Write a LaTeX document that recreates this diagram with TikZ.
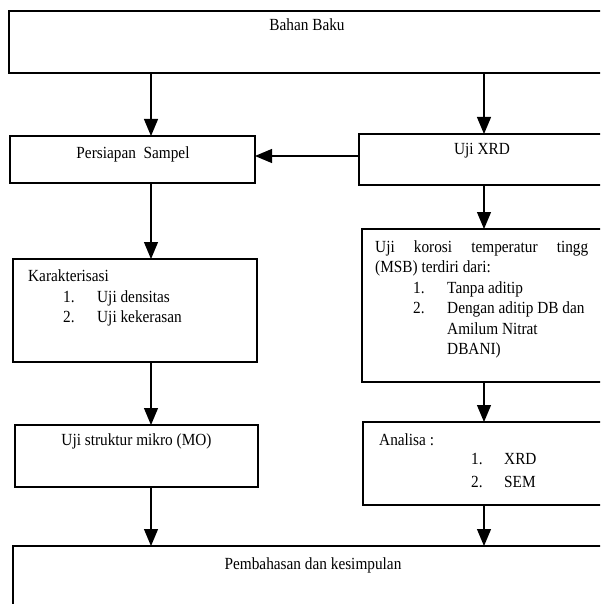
\documentclass[tikz,border=0pt]{standalone}
\usepackage{fontspec}
\setmainfont{Liberation Serif}[FakeStretch=0.9]
\usetikzlibrary{arrows.meta}
\begin{document}
\begin{tikzpicture}[x=1pt,y=-1pt,
  box/.style={draw, line width=1.4pt, rectangle, inner sep=0pt, outer sep=0pt, anchor=north west},
  arr/.style={line width=1.2pt, -{Triangle[length=17pt,width=14pt]}},
  txt/.style={inner sep=0pt, anchor=base west, font=\fontsize{17}{20}\selectfont},
  ctxt/.style={txt, anchor=base}]
\useasboundingbox (0,0) rectangle (600,604);
\clip (0,0) rectangle (600,604);
% boxes
\node[box, minimum width=602pt, minimum height=62pt] (bahan) at (9,11) {};
\node[box, minimum width=245pt, minimum height=47pt] (persiapan) at (10,136) {};
\node[box, minimum width=250pt, minimum height=51pt] (xrd) at (359,134) {};
\node[box, minimum width=244pt, minimum height=103pt] (karak) at (13,259) {};
\node[box, minimum width=250pt, minimum height=153pt] (korosi) at (362,229) {};
\node[box, minimum width=243pt, minimum height=62pt] (struktur) at (15,425) {};
\node[box, minimum width=250pt, minimum height=83pt] (analisa) at (363,422) {};
\node[box, minimum width=600pt, minimum height=80pt] (bahas) at (13,546) {};
% texts
\node[ctxt] (tbahan) at (307,31) {Bahan Baku};
\node[ctxt] (tpersiapan) at (133,158) {Persiapan\ \ Sampel};
\node[ctxt] (txrd) at (482,155) {Uji XRD};
\node[txt] (tk0) at (28,281) {Karakterisasi};
\node[txt] (tk1n) at (63,302) {1.};
\node[txt] (tk1) at (97,302) {Uji densitas};
\node[txt] (tk2n) at (63,322) {2.};
\node[txt] (tk2) at (97,322) {Uji kekerasan};
\node[txt] (tr0) at (375,252) {\hbox to 213pt{Uji\hfill korosi\hfill temperatur\hfill tingg}};
\node[txt] (tr1) at (375,272.5) {(MSB) terdiri dari:};
\node[txt] (tr2n) at (413,293) {1.};
\node[txt] (tr2) at (447,293) {Tanpa aditip};
\node[txt] (tr3n) at (413,313.5) {2.};
\node[txt] (tr3) at (447,313.5) {Dengan aditip DB dan};
\node[txt] (tr4) at (447,334) {Amilum Nitrat};
\node[txt] (tr5) at (447,354.5) {DBANI)};
\node[ctxt] (tstruktur) at (136.5,445) {Uji struktur mikro (MO)};
\node[txt] (ta0) at (379,445) {Analisa :};
\node[txt] (ta1n) at (471,464) {1.};
\node[txt] (ta1) at (504,464) {XRD};
\node[txt] (ta2n) at (471,487) {2.};
\node[txt] (ta2) at (504,487) {SEM};
\node[ctxt] (tbahas) at (313,569) {Pembahasan dan kesimpulan};
% connectors
\coordinate (cl) at (151,0);
\coordinate (cr) at (484,0);
\coordinate (rh) at (0,156);
\draw[arr] (bahan.south -| cl) -- (persiapan.north -| cl);
\draw[arr] (bahan.south -| cr) -- (xrd.north -| cr);
\draw[arr] (xrd.west |- rh) -- (persiapan.east |- rh);
\draw[arr] (persiapan.south -| cl) -- (karak.north -| cl);
\draw[arr] (xrd.south -| cr) -- (korosi.north -| cr);
\draw[arr] (karak.south -| cl) -- (struktur.north -| cl);
\draw[arr] (korosi.south -| cr) -- (analisa.north -| cr);
\draw[arr] (struktur.south -| cl) -- (bahas.north -| cl);
\draw[arr] (analisa.south -| cr) -- (bahas.north -| cr);
\end{tikzpicture}
\end{document}
